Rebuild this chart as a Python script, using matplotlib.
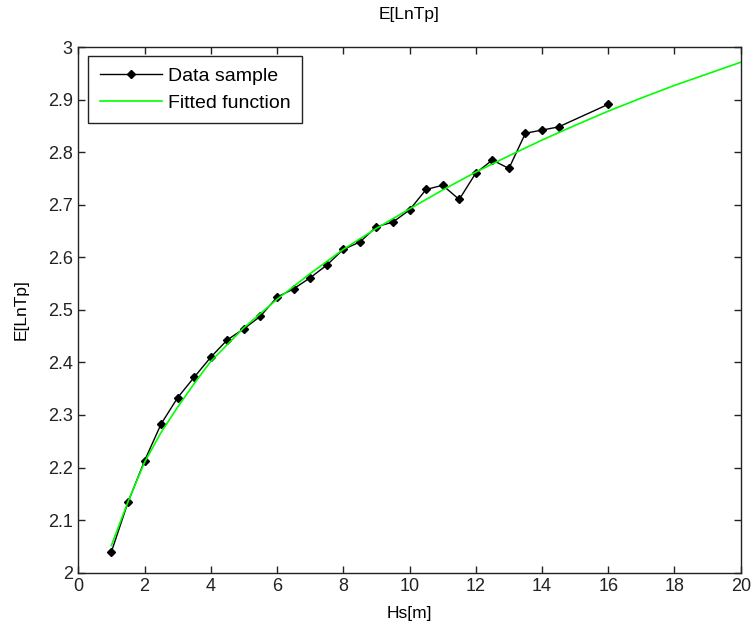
import numpy as np
import matplotlib as mpl
import matplotlib.pyplot as plt
from matplotlib.ticker import FuncFormatter


# sample means of ln(Tp) per Hs bin
hs_sample = [1.0, 1.5, 2.0, 2.5, 3.0, 3.5, 4.0, 4.5, 5.0, 5.5, 6.0, 6.5, 7.0, 7.5,
             8.0, 8.5, 9.0, 9.5, 10.0, 10.5, 11.0, 11.5, 12.0, 12.5, 13.0, 13.5,
             14.0, 14.5, 16.0]
lntp_sample = [2.040, 2.134, 2.213, 2.283, 2.333, 2.372, 2.410, 2.443, 2.464, 2.488,
               2.524, 2.540, 2.561, 2.585, 2.615, 2.629, 2.658, 2.667, 2.690, 2.729,
               2.737, 2.710, 2.760, 2.785, 2.769, 2.836, 2.842, 2.848, 2.891]

# fitted curve evaluated on a coarse grid
hs_fit = [1.0, 1.5, 2.0, 2.5, 3.0, 3.5, 4.0, 5.0, 6.0, 7.0, 8.0, 9.0, 10.0, 11.0,
          12.0, 13.0, 14.0, 15.0, 16.0, 17.0, 18.0, 19.0, 20.0]
lntp_fit = [2.052, 2.135, 2.210, 2.267, 2.315, 2.360, 2.402, 2.466, 2.520, 2.569,
            2.615, 2.655, 2.692, 2.728, 2.762, 2.793, 2.823, 2.851, 2.878, 2.903,
            2.927, 2.949, 2.971]

xticks = np.arange(0, 21, 2)
yticks = np.round(np.arange(2.0, 3.01, 0.1), 1)

mpl.rcParams['font.family'] = ['Liberation Sans', 'DejaVu Sans']
mpl.rcParams['font.size'] = 13

fig = plt.figure(figsize=(7.51, 6.22), dpi=100)
ax = fig.add_axes([0.1043, 0.0793, 0.8820, 0.8451])

ax.plot(hs_sample, lntp_sample, color='black', lw=1.0, marker='D', ms=3.6,
        mfc='black', mec='black', label='Data sample')
ax.plot(hs_fit, lntp_fit, color='#00ff00', lw=1.2, label='Fitted function')

ax.set_xlim(0, 20)
ax.set_ylim(2, 3)
ax.set_xticks(xticks)
ax.set_yticks(yticks)
ax.yaxis.set_major_formatter(FuncFormatter(lambda v, p: '%g' % round(v, 1)))
ax.tick_params(direction='in', length=5, width=1.0, top=True, right=True,
               labelsize=13, colors='#222222', pad=4)
for s in ax.spines.values():
    s.set_linewidth(1.0)
    s.set_color('#222222')

ax.set_title('E[LnTp]', fontsize=12.5, pad=20)
ax.set_xlabel('Hs[m]', fontsize=12.5, labelpad=8)
ax.set_ylabel('E[LnTp]', fontsize=12.5, labelpad=14)

leg = ax.legend(loc='upper left', bbox_to_anchor=(0.015, 0.983), fontsize=14,
                fancybox=False, framealpha=1.0, edgecolor='#222222',
                handlelength=3.2, borderpad=0.6, labelspacing=0.45,
                handletextpad=0.3, borderaxespad=0.0)
leg.get_frame().set_linewidth(1.0)

fig.savefig('out.png', dpi=100)
